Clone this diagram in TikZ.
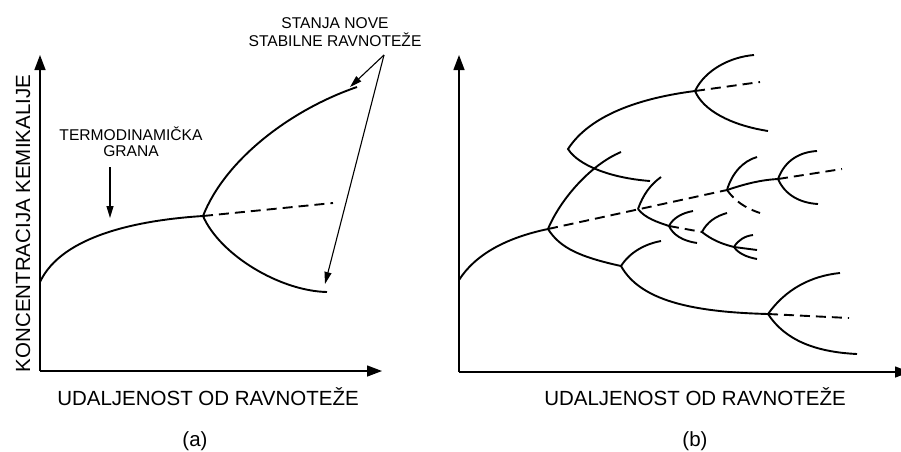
\documentclass[tikz,border=0pt]{standalone}
\usepackage{fontspec}
\setmainfont{Liberation Sans}
\usetikzlibrary{arrows.meta}
\begin{document}
\begin{tikzpicture}[x=1pt,y=-1pt,
  curve/.style={line width=1.9pt},
  dcurve/.style={line width=1.9pt, dash pattern=on 10pt off 6pt},
  axis/.style={line width=1.4pt,-{Triangle[length=15pt,width=11pt]}},
  note/.style={line width=1.1pt,-{Triangle[length=12pt,width=7pt]}},
  biglbl/.style={font=\fontsize{20.5}{24}\selectfont, inner sep=0pt, anchor=base},
  smalllbl/.style={font=\fontsize{15.6}{18}\selectfont, inner sep=0pt, anchor=base}]
\useasboundingbox (0,0) rectangle (901,451);

% ---------------- panel (a) ----------------
\coordinate (Oa) at (40,371);
\coordinate (Ya) at (40,55);
\coordinate (Xa) at (382,371);
\draw[axis] (Oa) -- (Ya);
\draw[axis] (Oa) -- (Xa);

\coordinate (a0) at (40,282);
\coordinate (P) at (203,216);
\coordinate (Pu) at (357,87);
\coordinate (Pl) at (327,292);
\coordinate (Pd) at (333,203);
\draw[curve] (a0) .. controls (62,235) and (140,220) .. (P);
\draw[curve] (P) .. controls (225,160) and (290,110) .. (Pu);
\draw[curve] (P) .. controls (220,255) and (280,291) .. (Pl);
\draw[dcurve] (P) -- (Pd);

\node[smalllbl] (termo) at (131,140) {TERMODINAMIČKA};
\node[smalllbl] (grana) at (131,156) {GRANA};
\coordinate (ta) at (110,167);
\coordinate (tb) at (110,218);
\draw[note] (ta) -- (tb);

\node[smalllbl] (stanja) at (335,28.3) {STANJA NOVE};
\node[smalllbl] (stab) at (335,46) {STABILNE RAVNOTEŽE};
\coordinate (src) at (384,55);
\coordinate (tip1) at (350,87);
\coordinate (tip2) at (325,284);
\draw[note] (src) -- (tip1);
\draw[note] (src) -- (tip2);

\node[biglbl, rotate=90] (ylab) at (30,223.5) {KONCENTRACIJA KEMIKALIJE};
\node[biglbl] (xlaba) at (208,405) {UDALJENOST OD RAVNOTEŽE};
\node[biglbl] (capa) at (195,446) {(a)};

% ---------------- panel (b) ----------------
\coordinate (Ob) at (459,372);
\coordinate (Yb) at (459,55);
\coordinate (Xb) at (910,372);
\draw[axis] (Ob) -- (Yb);
\draw[axis] (Ob) -- (Xb);

\coordinate (b0) at (459,280);
\coordinate (A) at (548,229);
\coordinate (B) at (638,209);
\coordinate (C) at (727,190);
\coordinate (D) at (778,179);
\coordinate (E) at (568,149);
\coordinate (F) at (695,91);
\coordinate (G) at (669,226);
\coordinate (H) at (702,232);
\coordinate (I) at (734,247);
\coordinate (J) at (621,266);
\coordinate (K) at (768,314);

% trunk
\draw[curve] (b0) .. controls (475,255) and (505,238) .. (A);
% dashed unstable continuations
\draw[dcurve] (A) -- (C);
\draw[dcurve] (D) -- (842,169);
\draw[dcurve] (F) -- (760,82);
\draw[dcurve] (G) -- (H);
\draw[dcurve] (C) .. controls (735,201) and (745,208) .. (760,213);
\draw[dcurve] (K) -- (849,318);

% A branches
\draw[curve] (A) .. controls (560,200) and (590,165) .. (621,152);
\draw[curve] (A) .. controls (560,248) and (580,257) .. (J);
% fold through E
\draw[curve] (F) .. controls (640,98) and (590,115) .. (E)
             .. controls (578,165) and (610,178) .. (650,181);
% F branches
\draw[curve] (F) .. controls (705,70) and (730,57) .. (754,55);
\draw[curve] (F) .. controls (703,110) and (730,125) .. (768,131);
% B branches
\draw[curve] (B) .. controls (643,195) and (650,185) .. (661,177);
\draw[curve] (B) .. controls (645,218) and (657,222) .. (G);
% G branches
\draw[curve] (G) .. controls (673,218) and (682,213) .. (693,211);
\draw[curve] (G) .. controls (673,235) and (683,241) .. (697,243);
% H branches
\draw[curve] (H) .. controls (707,222) and (716,216) .. (727,213);
\draw[curve] (H) .. controls (712,240) and (722,244) .. (I);
% I branches
\draw[curve] (I) .. controls (738,240) and (745,236) .. (753,235);
\draw[curve] (I) -- (757,250);
\draw[curve] (I) .. controls (738,253) and (746,257) .. (757,259);
% C branches
\draw[curve] (C) .. controls (732,173) and (743,161) .. (757,157);
\draw[curve] (C) .. controls (745,184) and (760,180) .. (D);
% D branches
\draw[curve] (D) .. controls (785,160) and (800,152) .. (817,151);
\draw[curve] (D) .. controls (785,195) and (800,203) .. (818,204);
% J branches
\draw[curve] (J) .. controls (630,252) and (645,244) .. (661,241);
\draw[curve] (J) .. controls (640,300) and (690,312) .. (K);
% K branches
\draw[curve] (K) .. controls (785,290) and (810,276) .. (840,273);
\draw[curve] (K) .. controls (785,340) and (815,352) .. (857,354);

\node[biglbl] (xlabb) at (695,405) {UDALJENOST OD RAVNOTEŽE};
\node[biglbl] (capb) at (695,446) {(b)};
\end{tikzpicture}
\end{document}
